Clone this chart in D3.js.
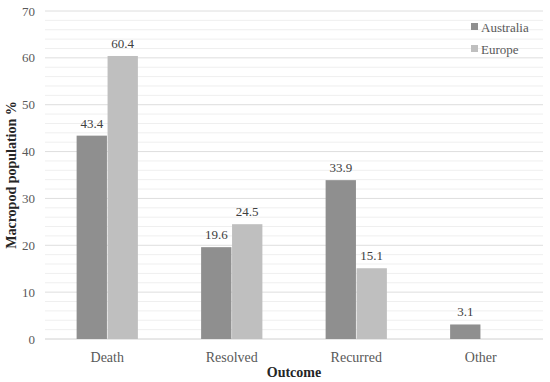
<!DOCTYPE html>
<html>
<head>
<meta charset="utf-8">
<script src="https://cdn.jsdelivr.net/npm/d3@7"></script>
<style>
  html, body { margin: 0; padding: 0; background: #fff; overflow: hidden; }
  svg { display: block; }
</style>
</head>
<body>
<div id="chart"></div>
<script>
// Outcome categories and series values (%)
const categories = ["Death", "Resolved", "Recurred", "Other"];
const seriesNames = ["Australia", "Europe"];
const australia = [43.4, 19.6, 33.9, 3.1];
const europe = [60.4, 24.5, 15.1, null];
const yTicks = [0, 10, 20, 30, 40, 50, 60, 70];

const colors = { Australia: "#8f8f8f", Europe: "#bfbfbf" };
const fontFamily = "'Liberation Serif', 'DejaVu Serif', 'Times New Roman', serif";

const width = 550, height = 382;
const margin = { top: 11, right: 7, bottom: 43, left: 45 };
const innerWidth = width - margin.left - margin.right;
const innerHeight = height - margin.top - margin.bottom;

const svg = d3.select("#chart").append("svg")
  .attr("width", width)
  .attr("height", height)
  .attr("font-family", fontFamily)
  .style("font-family", fontFamily);

const g = svg.append("g")
  .attr("transform", `translate(${margin.left}, ${margin.top})`);

const x0 = d3.scaleBand().domain(categories).range([0, innerWidth]).paddingInner(0).paddingOuter(0);
const x1 = d3.scaleBand().domain(seriesNames).range([31, x0.bandwidth() - 31]).padding(0.02);
const y = d3.scaleLinear().domain([0, 70]).range([innerHeight, 0]);

// Minor grid every 2, major every 10
d3.range(2, 70, 2).forEach((v) => {
  if (v % 10 === 0) return;
  g.append("line")
    .attr("x1", 0).attr("x2", innerWidth)
    .attr("y1", y(v)).attr("y2", y(v))
    .attr("stroke", "#efefef").attr("stroke-width", 1);
});
yTicks.forEach((v) => {
  g.append("line")
    .attr("x1", 0).attr("x2", innerWidth)
    .attr("y1", y(v)).attr("y2", y(v))
    .attr("stroke", v === 0 ? "#d0d0d0" : "#dedede").attr("stroke-width", 1);
  g.append("text")
    .attr("x", -10).attr("y", y(v)).attr("dy", "0.35em")
    .attr("text-anchor", "end")
    .attr("font-size", 13).attr("fill", "#595959")
    .text(v);
});

// Bars and value labels
const rows = categories.map((c, i) => ({ c, vals: [
  { name: "Australia", v: australia[i] },
  { name: "Europe", v: europe[i] },
] }));

rows.forEach((row) => {
  row.vals.forEach((d) => {
    if (d.v == null) return;
    const bx = x0(row.c) + x1(d.name);
    g.append("rect")
      .attr("x", bx).attr("y", y(d.v))
      .attr("width", x1.bandwidth()).attr("height", y(0) - y(d.v))
      .attr("fill", colors[d.name]);
    g.append("text")
      .attr("x", bx + x1.bandwidth() / 2).attr("y", y(d.v) - 8)
      .attr("text-anchor", "middle")
      .attr("font-size", 13).attr("fill", "#404040")
      .text(d.v.toFixed(1));
  });
  g.append("text")
    .attr("x", x0(row.c) + x0.bandwidth() / 2).attr("y", innerHeight + 23)
    .attr("text-anchor", "middle")
    .attr("font-size", 14).attr("fill", "#595959")
    .text(row.c);
});

// Axis titles
svg.append("text")
  .attr("x", margin.left + innerWidth / 2).attr("y", 377)
  .attr("text-anchor", "middle")
  .attr("font-size", 14).attr("font-weight", "bold").attr("fill", "#262626")
  .text("Outcome");

svg.append("text")
  .attr("transform", `translate(16, ${margin.top + innerHeight / 2}) rotate(-90)`)
  .attr("text-anchor", "middle")
  .attr("font-size", 14).attr("font-weight", "bold").attr("fill", "#262626")
  .text("Macropod population %");

// Legend
seriesNames.forEach((name, i) => {
  const ly = 27 + i * 22;
  svg.append("rect")
    .attr("x", 471).attr("y", ly - 4).attr("width", 7).attr("height", 7)
    .attr("fill", colors[name]);
  svg.append("text")
    .attr("x", 481).attr("y", ly).attr("dy", "0.35em")
    .attr("font-size", 13).attr("fill", "#595959")
    .text(name);
});
</script>
</body>
</html>
